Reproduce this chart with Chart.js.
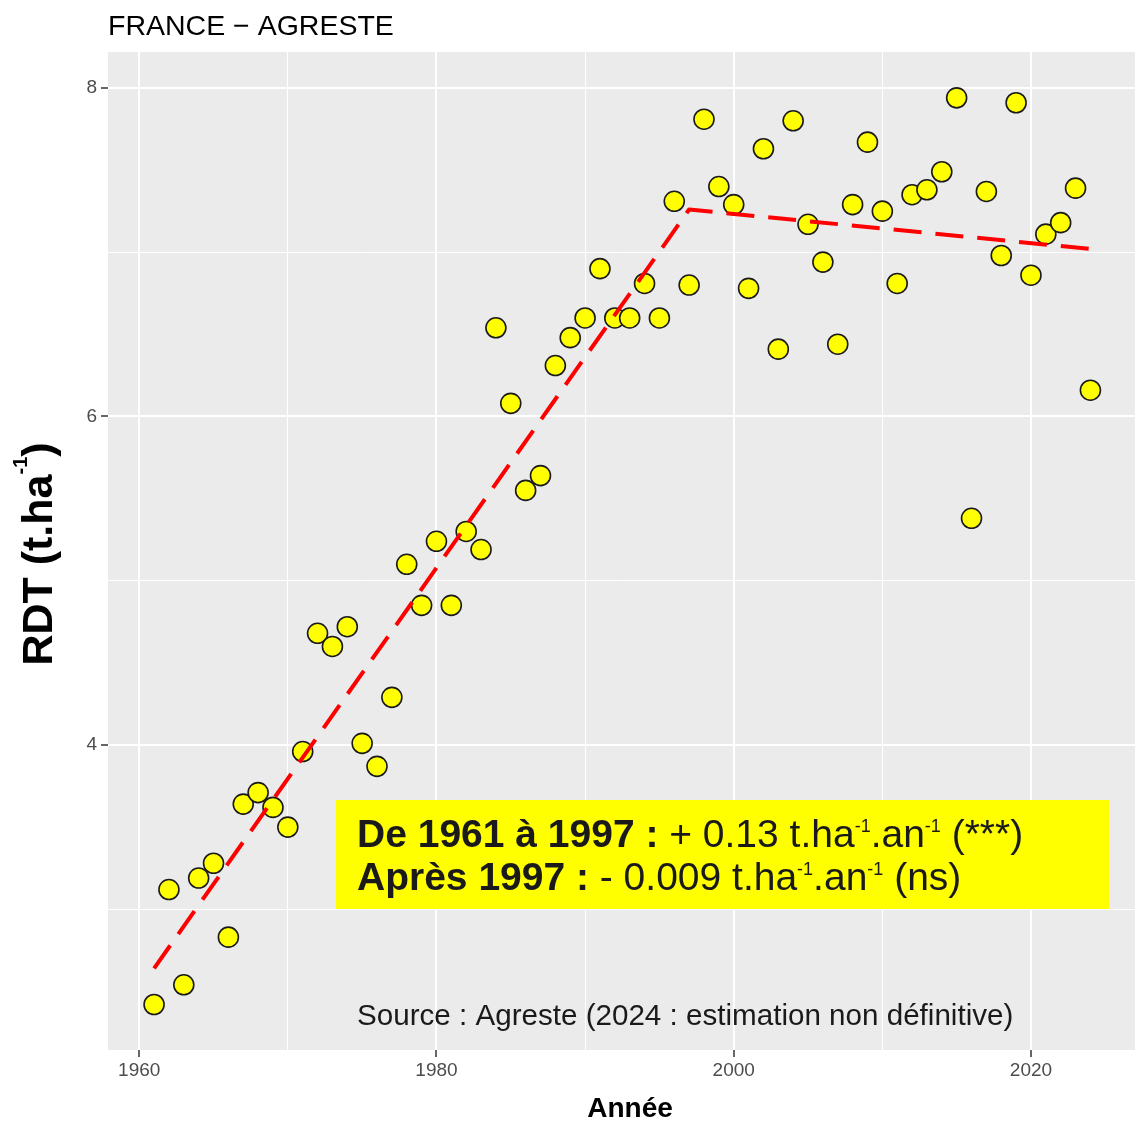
<!DOCTYPE html>
<html>
<head>
<meta charset="utf-8">
<script src="https://cdn.jsdelivr.net/npm/chart.js@4.4.1/dist/chart.umd.min.js"></script>
<style>
  html, body { margin: 0; padding: 0; background: #fff; }
  canvas { display: block; }
</style>
</head>
<body>
<canvas id="canvas" width="1135" height="1122"></canvas>
<script>
// rendement annuel (t/ha)
const years = [1961, 1962, 1963, 1964, 1965, 1966, 1967, 1968, 1969, 1970,
  1971, 1972, 1973, 1974, 1975, 1976, 1977, 1978, 1979, 1980,
  1981, 1982, 1983, 1984, 1985, 1986, 1987, 1988, 1989, 1990,
  1991, 1992, 1993, 1994, 1995, 1996, 1997, 1998, 1999, 2000,
  2001, 2002, 2003, 2004, 2005, 2006, 2007, 2008, 2009, 2010,
  2011, 2012, 2013, 2014, 2015, 2016, 2017, 2018, 2019, 2020,
  2021, 2022, 2023, 2024];
const rdt = [2.42, 3.12, 2.54, 3.19, 3.28, 2.83, 3.64, 3.71, 3.62, 3.50,
  3.96, 4.68, 4.60, 4.72, 4.01, 3.87, 4.29, 5.10, 4.85, 5.24,
  4.85, 5.30, 5.19, 6.54, 6.08, 5.55, 5.64, 6.31, 6.48, 6.60,
  6.90, 6.60, 6.60, 6.81, 6.60, 7.31, 6.80, 7.81, 7.40, 7.29,
  6.78, 7.63, 6.41, 7.80, 7.17, 6.94, 6.44, 7.29, 7.67, 7.25,
  6.81, 7.35, 7.38, 7.49, 7.94, 5.38, 7.37, 6.98, 7.91, 6.86,
  7.11, 7.18, 7.39, 6.16];

// régression segmentée (rupture 1997)
const fitYears = [1961, 1997, 2024];
const fitValues = [2.64, 7.26, 7.02];

const xMajor = [1960, 1980, 2000, 2020];
const xMinor = [1970, 1990, 2010];
const yMajor = [4, 6, 8];
const yMinor = [3, 5, 7];

const FONT = '"Liberation Sans", Arial, sans-serif';

const bgPlugin = {
  id: 'panelBg',
  beforeDraw(chart) {
    const { ctx, chartArea: a } = chart;
    ctx.save();
    ctx.fillStyle = '#ffffff';
    ctx.fillRect(0, 0, chart.width, chart.height);
    ctx.fillStyle = '#EBEBEB';
    ctx.fillRect(a.left, a.top, a.right - a.left, a.bottom - a.top);
    ctx.restore();
  }
};

// texte avec exposants
function drawRich(ctx, x, y, parts, size, align) {
  const fontOf = (p) => (p.bold ? 'bold ' : '') + (p.sup ? p.supSize : size) + 'px ' + FONT;
  let total = 0;
  parts.forEach(p => { ctx.font = fontOf(p); total += ctx.measureText(p.t).width; });
  let cx = align === 'center' ? x - total / 2 : x;
  ctx.textAlign = 'left';
  ctx.textBaseline = 'alphabetic';
  parts.forEach(p => {
    ctx.font = fontOf(p);
    ctx.fillText(p.t, cx, p.sup ? y - p.raise : y);
    cx += ctx.measureText(p.t).width;
  });
}

const textPlugin = {
  id: 'texts',
  afterDraw(chart) {
    const ctx = chart.ctx;
    ctx.save();

    // titre
    ctx.fillStyle = '#000';
    ctx.font = '28.5px ' + FONT;
    ctx.textAlign = 'left';
    ctx.textBaseline = 'alphabetic';
    ctx.fillText('FRANCE \u2212 AGRESTE', 108, 35);

    // titre axe y
    ctx.save();
    ctx.translate(52, 554);
    ctx.rotate(-Math.PI / 2);
    ctx.fillStyle = '#000';
    drawRich(ctx, 0, 0, [
      { t: 'RDT (t.ha', bold: true },
      { t: '-1', bold: true, sup: true, supSize: 20, raise: 25 },
      { t: ')', bold: true }
    ], 43, 'center');
    ctx.restore();

    // titre axe x
    ctx.fillStyle = '#000';
    ctx.font = 'bold 28px ' + FONT;
    ctx.textAlign = 'center';
    ctx.fillText('Ann\u00e9e', 630, 1117);

    // encadré des pentes
    ctx.fillStyle = '#FFFF00';
    ctx.fillRect(336, 800, 773, 109);
    ctx.fillStyle = '#1a1a1a';
    const sup = { sup: true, supSize: 18, raise: 15 };
    drawRich(ctx, 357, 847, [
      { t: 'De 1961 \u00e0 1997 : ', bold: true },
      { t: '+ 0.13 t.ha' },
      Object.assign({ t: '-1' }, sup),
      { t: '.an' },
      Object.assign({ t: '-1' }, sup),
      { t: ' (***)' }
    ], 39);
    drawRich(ctx, 357, 890, [
      { t: 'Apr\u00e8s 1997 : ', bold: true },
      { t: '- 0.009 t.ha' },
      Object.assign({ t: '-1' }, sup),
      { t: '.an' },
      Object.assign({ t: '-1' }, sup),
      { t: ' (ns)' }
    ], 39);

    // source
    ctx.fillStyle = '#1a1a1a';
    ctx.font = '29.6px ' + FONT;
    ctx.textAlign = 'left';
    ctx.fillText('Source : Agreste (2024 : estimation non d\u00e9finitive)', 357, 1025);

    ctx.restore();
  }
};

const isMajorX = (v) => xMajor.includes(v);
const isMajorY = (v) => yMajor.includes(v);

new Chart(document.getElementById('canvas').getContext('2d'), {
  type: 'scatter',
  data: {
    datasets: [{
      type: 'line',
      data: fitYears.map((y, i) => ({ x: y, y: fitValues[i] })),
      borderColor: '#FF0000',
      borderWidth: 4,
      borderDash: [28, 14],
      borderJoinStyle: 'round',
      pointRadius: 0,
      fill: false,
      tension: 0,
      order: 0
    }, {
      type: 'scatter',
      data: years.map((y, i) => ({ x: y, y: rdt[i] })),
      backgroundColor: '#FFFF00',
      borderColor: '#1a1a1a',
      borderWidth: 1.6,
      pointRadius: 10,
      order: 1
    }]
  },
  options: {
    responsive: false,
    animation: false,
    layout: { autoPadding: false, padding: { top: 52, right: 0, bottom: 0, left: 0 } },
    plugins: {
      legend: { display: false },
      tooltip: { enabled: false }
    },
    scales: {
      x: {
        type: 'linear',
        min: 1957.9,
        max: 2027.0,
        afterBuildTicks: (s) => { s.ticks = xMajor.concat(xMinor).sort().map(v => ({ value: v })); },
        afterFit: (s) => { s.height = 72; s.paddingLeft = 0; s.paddingRight = 0; },
        border: { display: false },
        grid: {
          color: '#FFFFFF',
          lineWidth: (c) => isMajorX(c.tick.value) ? 2 : 1,
          tickColor: (c) => isMajorX(c.tick.value) ? '#333333' : 'rgba(0,0,0,0)',
          tickLength: 7,
          tickWidth: 1.5
        },
        ticks: {
          autoSkip: false,
          maxRotation: 0,
          padding: 2,
          color: '#4D4D4D',
          font: { size: 19, family: FONT },
          callback: (v) => isMajorX(v) ? String(v) : ''
        }
      },
      y: {
        type: 'linear',
        min: 2.143,
        max: 8.219,
        afterBuildTicks: (s) => { s.ticks = yMinor.concat(yMajor).sort().map(v => ({ value: v })); },
        afterFit: (s) => { s.width = 108; s.paddingTop = 0; s.paddingBottom = 0; },
        border: { display: false },
        grid: {
          color: '#FFFFFF',
          lineWidth: (c) => isMajorY(c.tick.value) ? 2 : 1,
          tickColor: (c) => isMajorY(c.tick.value) ? '#333333' : 'rgba(0,0,0,0)',
          tickLength: 7,
          tickWidth: 1.5
        },
        ticks: {
          padding: 4,
          color: '#4D4D4D',
          font: { size: 19, family: FONT },
          callback: (v) => isMajorY(v) ? String(v) : ''
        }
      }
    }
  },
  plugins: [bgPlugin, textPlugin]
});
</script>
</body>
</html>
